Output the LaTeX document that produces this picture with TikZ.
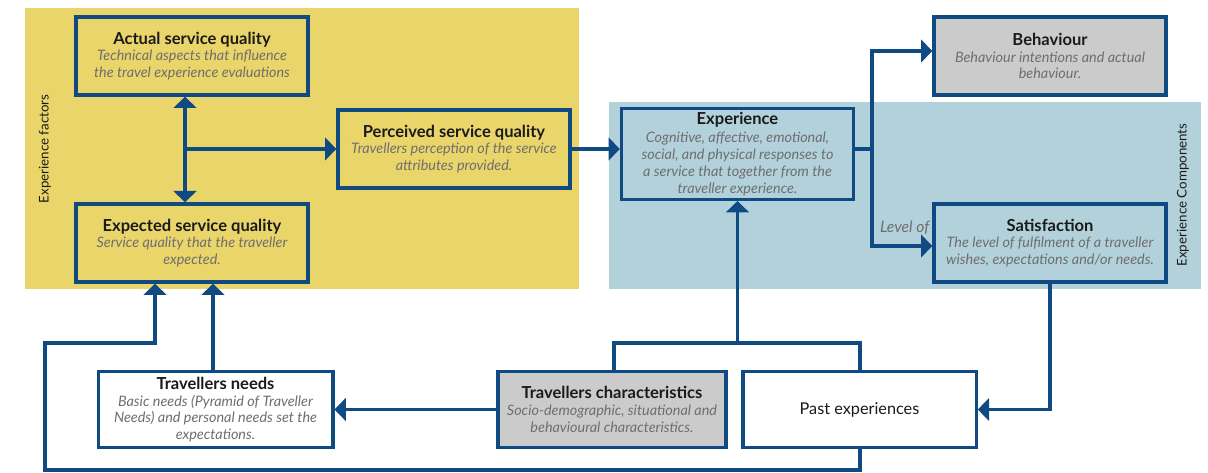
\documentclass[tikz,border=0pt]{standalone}
\usepackage{fontspec}
\setmainfont{Lato}
\usetikzlibrary{arrows.meta}
\definecolor{navy}{HTML}{0F4B82}
\definecolor{panelY}{HTML}{EAD56B}
\definecolor{panelB}{HTML}{B3D1DB}
\definecolor{boxgray}{HTML}{CBCBCB}
\definecolor{subtxt}{HTML}{6E6E6E}
\definecolor{maintxt}{HTML}{1A1A1A}
\tikzset{
  box/.style={draw=navy, line width=2.5pt, minimum width=174pt, minimum height=58.5pt,
    align=center, inner sep=1pt, text=maintxt, font=\fontsize{10.8}{12.6}\selectfont},
  conn/.style={draw=navy, line width=2.3pt},
  arr/.style={conn, -{Triangle[width=17pt,length=8.5pt]}},
  darr/.style={conn, {Triangle[width=17pt,length=8.5pt]}-{Triangle[width=17pt,length=8.5pt]}},
  sidelabel/.style={rotate=90, text=maintxt, font=\fontsize{10}{12}\selectfont},
}
\newcommand{\ttl}[1]{{\fontsize{12.4}{12.6}\selectfont\bfseries #1}}
\newcommand{\dsc}[1]{{\itshape\color{subtxt}#1}}
\begin{document}
\begin{tikzpicture}[x=0.75pt,y=-0.75pt]
\useasboundingbox (0,0) rectangle (1208,473);
% background panels
\fill[panelY] (25,8) rectangle (579,289);
\fill[panelB] (609,102) rectangle (1201,289);
\node[sidelabel] (flab) at (45,149) {Experience factors};
\node[sidelabel] (clab) at (1183,195) {Experience Components};

% experience factors
\node[box] (act) at (192,56) {\ttl{Actual service quality}\\\dsc{Technical aspects that influence}\\\dsc{the travel experience evaluations}};
\node[box] (exq) at (192,243) {\ttl{Expected service quality}\\\dsc{Service quality that the traveller}\\\dsc{expected.}};
\node[box] (per) at (454,149) {\ttl{Perceived service quality}\\\dsc{Travellers perception of the service}\\\dsc{attributes provided.}};

% experience components
\node[box, minimum height=68pt] (xp) at (737.5,154) {\ttl{Experience}\\[1pt]\dsc{Cognitive, affective, emotional,}\\\dsc{social, and physical responses to}\\\dsc{a service that together from the}\\\dsc{traveller experience.}};
\node[box, fill=boxgray] (beh) at (1050,56) {\ttl{Behaviour}\\\dsc{Behaviour intentions and actual}\\\dsc{behaviour.}};
\node[box] (sat) at (1050,243) {\ttl{Satisfaction}\\\dsc{The level of fulfilment of a traveller}\\\dsc{wishes, expectations and/or needs.}};

% influencing factors
\node[box, fill=white, minimum width=176pt, minimum height=57pt] (need) at (215.5,409.5) {\ttl{Travellers needs}\\\dsc{Basic needs (Pyramid of Traveller}\\\dsc{Needs) and personal needs set the}\\\dsc{expectations.}};
\node[box, fill=boxgray, minimum width=171pt, minimum height=57pt] (chr) at (612,409.5) {\ttl{Travellers characteristics}\\\dsc{Socio-demographic, situational and}\\\dsc{behavioural characteristics.}};
\node[box, fill=white, minimum width=175pt, minimum height=57pt, font=\fontsize{12.2}{14}\selectfont] (past) at (859.5,409.5) {Past experiences};

% junction points
\coordinate (jf) at (185,149);
\coordinate (jx) at (872,149);
\coordinate (jc) at (614,343);
\coordinate (lowR) at (860,470);
\coordinate (lowL) at (45,470);
\coordinate (upL) at (45,343);
\coordinate (inL) at (155,343);

% connectors
\draw[darr] (act.south -| jf) -- (exq.north -| jf);
\draw[arr] (jf) -- (jf -| per.west);
\draw[arr] (per.east) -- (per.east -| xp.west);
\draw[conn] (xp.east |- jx) -- (jx);
\draw[arr] (jx) |- ([yshift=3.75pt]beh.west);
\draw[arr] (jx) |- ([yshift=-2.25pt]sat.west);
\node[anchor=east, text=subtxt, font=\fontsize{11.8}{13}\selectfont\itshape, inner sep=1pt] (lvl) at (931,228) {Level of};
\draw[arr] (sat.south) |- (past.east);
\draw[arr] (chr.west) -- (need.east);
\draw[arr] (need.north -| 213,0) -- (exq.south -| 213,0);
\draw[conn] (chr.north -| jc) -- (jc) -| (past.north -| lowR);
\draw[arr] (xp.south |- jc) -- (xp.south);
\draw[arr] (past.south -| lowR) -- (lowR) -- (lowL) -- (upL) -- (inL) -- (inL |- exq.south);
\end{tikzpicture}
\end{document}
